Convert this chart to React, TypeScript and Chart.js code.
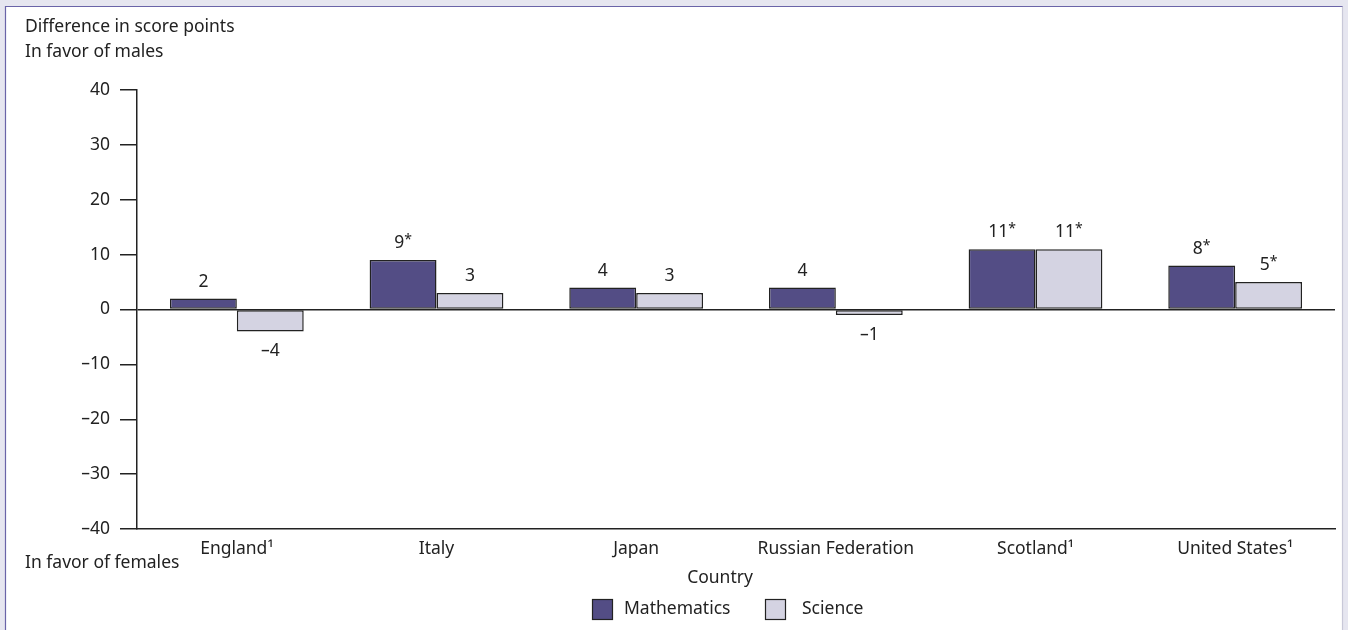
import React, { useEffect, useRef } from "react";
import { Chart, registerables } from "chart.js";

Chart.register(...registerables);

const countries = ["England¹", "Italy", "Japan", "Russian Federation", "Scotland¹", "United States¹"];
const mathValues = [2, 9, 4, 4, 11, 8];
const scienceValues = [-4, 3, 3, -1, 11, 5];
const mathSignificant = [false, true, false, false, true, true];
const scienceSignificant = [false, false, false, false, true, true];
const yTicks = [40, 30, 20, 10, 0, -10, -20, -30, -40];

const FONT = '"Noto Sans", "DejaVu Sans", sans-serif';
const FS = 17.5;
const MATH_COLOR = "#534d85";
const SCI_COLOR = "#d4d3e2";
const INK = "#222222";

const decorPlugin = {
  id: "decor",
  beforeDraw(chart: any) {
    const { ctx, width, height } = chart;
    ctx.save();
    ctx.fillStyle = "#e6e6f0";
    ctx.fillRect(0, 0, width, height);
    ctx.fillStyle = "#ffffff";
    ctx.fillRect(5, 6, width - 10, height - 6);
    ctx.strokeStyle = "#6a64a8";
    ctx.lineWidth = 1.2;
    ctx.beginPath();
    ctx.moveTo(5.5, height);
    ctx.lineTo(5.5, 6.5);
    ctx.lineTo(width - 5, 6.5);
    ctx.stroke();
    ctx.strokeStyle = "#c8c8d8";
    ctx.beginPath();
    ctx.moveTo(width - 5.5, 6.5);
    ctx.lineTo(width - 5.5, height);
    ctx.stroke();
    ctx.restore();
  },
  afterDraw(chart: any) {
    const { ctx } = chart;
    ctx.save();
    ctx.fillStyle = INK;
    ctx.font = `${FS}px ${FONT}`;
    ctx.textBaseline = "middle";
    ctx.textAlign = "left";
    ctx.fillText("Difference in score points", 25, 27);
    ctx.fillText("In favor of males", 25, 52);
    ctx.fillText("In favor of females", 25, 563);
    ctx.textAlign = "center";
    ctx.fillText("Country", 720, 578);

    // legend
    const items = [
      { label: "Mathematics", color: MATH_COLOR, box: 592, text: 624 },
      { label: "Science", color: SCI_COLOR, box: 765, text: 802 },
    ];
    ctx.textAlign = "left";
    items.forEach((it) => {
      ctx.fillStyle = it.color;
      ctx.fillRect(it.box, 599, 20, 20);
      ctx.strokeStyle = INK;
      ctx.lineWidth = 1.2;
      ctx.strokeRect(it.box + 0.5, 599.5, 20, 20);
      ctx.fillStyle = INK;
      ctx.fillText(it.label, it.text, 609);
    });

    // data labels
    const sig = [mathSignificant, scienceSignificant];
    chart.data.datasets.forEach((ds: any, di: number) => {
      const meta = chart.getDatasetMeta(di);
      meta.data.forEach((bar: any, i: number) => {
        const v = ds.data[i];
        const num = v < 0 ? "–" + Math.abs(v) : String(v);
        const star = sig[di][i] ? "*" : "";
        ctx.font = `${FS}px ${FONT}`;
        const wNum = ctx.measureText(num).width;
        ctx.font = `14px ${FONT}`;
        const wStar = star ? ctx.measureText(star).width : 0;
        const total = wNum + wStar;
        const y = v >= 0 ? bar.y - 17 : bar.y + 20;
        const x0 = bar.x - total / 2;
        ctx.fillStyle = INK;
        ctx.textAlign = "left";
        ctx.font = `${FS}px ${FONT}`;
        ctx.fillText(num, x0, y);
        if (star) {
          ctx.font = `14px ${FONT}`;
          ctx.fillText(star, x0 + wNum, y - 3);
        }
      });
    });
    ctx.restore();
  },
};

export default function App() {
  const ref = useRef<HTMLCanvasElement | null>(null);
  useEffect(() => {
    document.body.style.margin = "0";
    const canvas = ref.current;
    if (!canvas) return;
    const chart = new Chart(canvas, {
      type: "bar",
      data: {
        labels: countries,
        datasets: [
          {
            label: "Mathematics",
            data: mathValues,
            backgroundColor: MATH_COLOR,
            borderColor: INK,
            borderWidth: 1.5,
            borderSkipped: false,
            categoryPercentage: 0.67,
            barPercentage: 1,
          },
          {
            label: "Science",
            data: scienceValues,
            backgroundColor: SCI_COLOR,
            borderColor: INK,
            borderWidth: 1.5,
            borderSkipped: false,
            categoryPercentage: 0.67,
            barPercentage: 1,
          },
        ],
      },
      options: {
        responsive: false,
        animation: false,
        layout: { padding: { left: 0, right: 13, top: 90, bottom: 0 } },
        plugins: {
          legend: { display: false },
          title: { display: false },
          tooltip: { enabled: false },
        },
        scales: {
          x: {
            grid: { display: false, drawTicks: false },
            border: { display: true, color: INK, width: 1.5 },
            ticks: {
              color: INK,
              font: { family: FONT, size: FS },
              padding: 10,
              maxRotation: 0,
              autoSkip: false,
            },
            afterFit: (s: any) => {
              s.height = 101;
            },
          },
          y: {
            min: -40,
            max: 40,
            afterBuildTicks: (s: any) => {
              s.ticks = yTicks.map((v) => ({ value: v }));
            },
            grid: {
              drawOnChartArea: true,
              drawTicks: true,
              tickLength: 17,
              tickColor: INK,
              tickWidth: 1.5,
              lineWidth: 1.5,
              color: (c: any) => (c.tick && c.tick.value === 0 ? INK : "rgba(0,0,0,0)"),
            },
            border: { display: true, color: INK, width: 1.5 },
            ticks: {
              color: INK,
              font: { family: FONT, size: FS },
              padding: 10,
              callback: (v: any) => (Number(v) < 0 ? "–" + Math.abs(Number(v)) : String(v)),
            },
            afterFit: (s: any) => {
              s.width = 137;
            },
          },
        },
      },
      plugins: [decorPlugin],
    });
    return () => chart.destroy();
  }, []);
  return (
    <div style={{ width: 1348, height: 630 }}>
      <canvas ref={ref} width={1348} height={630} style={{ display: "block" }} />
    </div>
  );
}
